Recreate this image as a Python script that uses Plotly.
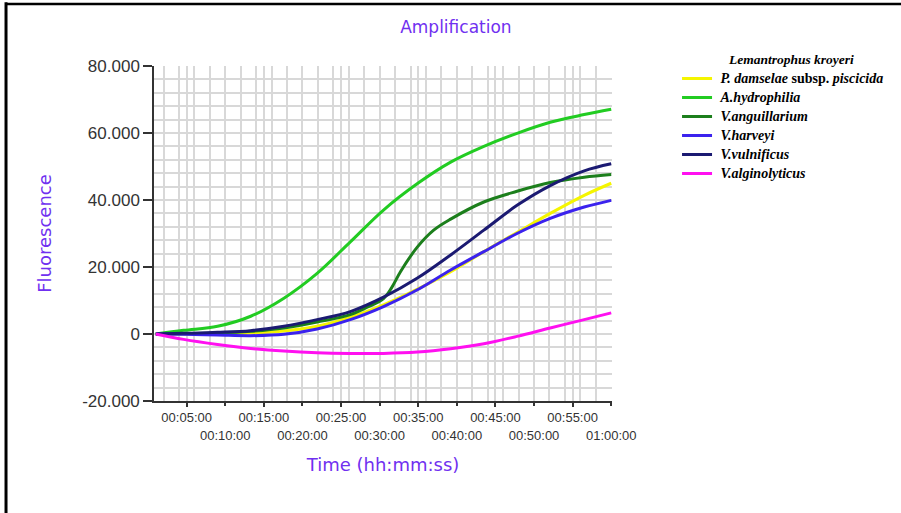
import plotly.graph_objects as go

# ---- data (time in minutes, fluorescence in raw units) ----
time_common = [1.0, 4.6, 9.0, 13.3, 17.6, 21.9, 26.2, 30.5, 34.9, 39.2, 43.5, 47.8, 52.1, 56.5, 60.0]
time_anguillarium = [1.0, 4.6, 9.0, 13.3, 17.6, 21.9, 26.2, 28.4, 30.5, 31.6, 32.7, 34.9, 37.0, 39.2,
                     43.5, 47.8, 52.1, 56.5, 60.0]

p_damselae = [0, 0, 100, 300, 900, 2300, 5000, 8700, 13400, 18600, 24600, 30300, 36000, 41400, 45000]
a_hydrophilia = [0, 1100, 2300, 5300, 10700, 18100, 27500, 37000, 44900, 51300, 56000, 59900, 63200, 65500, 67100]
v_anguillarium = [0, 100, 300, 800, 1800, 3600, 5800, 8000, 10600, 14000, 18600, 26000, 31000, 34300,
                  39400, 42600, 45200, 46800, 47600]
v_harveyi = [0, -100, -300, -500, -100, 1500, 4300, 8200, 13200, 19100, 24600, 30000, 34500, 37900, 39900]
v_vulnificus = [0, 200, 500, 1000, 2300, 4300, 6700, 11000, 16700, 23600, 31000, 38400, 44300, 48700, 50800]
v_alginolyticus = [0, -1600, -3100, -4300, -5100, -5600, -5800, -5800, -5400, -4400, -2900, -700, 1800, 4300, 6300]

LEG = "<span style='font-size:14px'>&nbsp;{}</span>"
series_names = [
    LEG.format("<b><i>P. damselae</i> subsp. <i>piscicida</i></b>"),
    LEG.format("<b><i>A.hydrophilia</i></b>"),
    LEG.format("<b><i>V.anguillarium</i></b>"),
    LEG.format("<b><i>V.harveyi</i></b>"),
    LEG.format("<b><i>V.vulnificus</i></b>"),
    LEG.format("<b><i>V.alginolyticus</i></b>"),
]
legend_title = "&nbsp;&nbsp;&nbsp;&nbsp;&nbsp;<b><i>Lemantrophus kroyeri</i></b>"
series_colors = ["#F5F500", "#22CC22", "#1C7F1C", "#3B22EE", "#1B1A72", "#FF10F0"]

odd_ticks = [5, 15, 25, 35, 45, 55]
odd_labels = ["00:05:00", "00:15:00", "00:25:00", "00:35:00", "00:45:00", "00:55:00"]
even_ticks = [10, 20, 30, 40, 50, 60]
even_labels = ["00:10:00", "00:20:00", "00:30:00", "00:40:00", "00:50:00", "01:00:00"]
y_ticks = [-20000, 0, 20000, 40000, 60000, 80000]
y_labels = ["-20.000", "0", "20.000", "40.000", "60.000", "80.000"]

x_range = [0.77, 60.1]
y_range = [-20000, 80000]

series = [
    (time_common, p_damselae),
    (time_common, a_hydrophilia),
    (time_anguillarium, v_anguillarium),
    (time_common, v_harveyi),
    (time_common, v_vulnificus),
    (time_common, v_alginolyticus),
]

TITLE_COLOR = "#7030F0"
TICK_COLOR = "#333333"
GRID = "#D8D8D8"

fig = go.Figure()
for i, ((t, v), name, col) in enumerate(zip(series, series_names, series_colors)):
    fig.add_trace(go.Scatter(
        x=t, y=v, name=name, mode="lines",
        line=dict(color=col, width=3, shape="spline", smoothing=1.0),
        xaxis="x2" if i == len(series) - 1 else "x",
        yaxis="y",
    ))

fig.update_layout(
    width=901, height=513,
    margin=dict(l=154, r=289, t=66, b=112),
    paper_bgcolor="white", plot_bgcolor="white",
    title=dict(text="Amplification", x=0.506, xref="container", xanchor="center",
               y=0.947, yref="container", yanchor="middle",
               font=dict(family="DejaVu Sans", size=17, color=TITLE_COLOR)),
    xaxis=dict(
        range=x_range, tickmode="array", tickvals=odd_ticks, ticktext=odd_labels,
        ticks="outside", ticklen=4, tickcolor="#333", tickwidth=1.5,
        showline=True, linecolor="#333", linewidth=1.5,
        showgrid=True, gridcolor=GRID, gridwidth=1.5,
        minor=dict(tickmode="linear", tick0=0, dtick=2, showgrid=True,
                   gridcolor=GRID, gridwidth=1.5),
        zeroline=False,
        ticklabelstandoff=0,
        tickfont=dict(family="Liberation Sans", size=13, color=TICK_COLOR),
        title=dict(text="Time (hh:mm:ss)", standoff=34,
                   font=dict(family="DejaVu Sans", size=18, color=TITLE_COLOR)),
    ),
    xaxis2=dict(
        overlaying="x", matches="x", anchor="y", side="bottom",
        tickmode="array", tickvals=even_ticks, ticktext=even_labels,
        ticks="outside", ticklen=4, tickcolor="#333", tickwidth=1.5,
        showline=False, showgrid=False, zeroline=False,
        ticklabelstandoff=18,
        tickfont=dict(family="Liberation Sans", size=13, color=TICK_COLOR),
    ),
    yaxis=dict(
        range=y_range, tickmode="array", tickvals=y_ticks, ticktext=y_labels,
        ticks="outside", ticklen=9, tickcolor="#333", tickwidth=1.5,
        showline=True, linecolor="#333", linewidth=1.5,
        showgrid=True, gridcolor=GRID, gridwidth=1.5,
        minor=dict(tickmode="linear", tick0=0, dtick=4000, showgrid=True,
                   gridcolor=GRID, gridwidth=1.5),
        zeroline=False,
        tickfont=dict(family="Liberation Sans", size=17, color=TICK_COLOR),
        title=dict(text="Fluorescence", standoff=26,
                   font=dict(family="DejaVu Sans", size=18, color=TITLE_COLOR)),
    ),
    legend=dict(
        x=1.142, y=1.058, xanchor="left", yanchor="top",
        bgcolor="rgba(0,0,0,0)", tracegroupgap=0, itemwidth=30,
        font=dict(family="Liberation Serif", size=10.7, color="black"),
        title=dict(text=legend_title, side="top center",
                   font=dict(family="Liberation Serif", size=13.5, color="black")),
    ),
    shapes=[
        dict(type="line", xref="paper", yref="paper", x0=-0.3231, x1=-0.3231, y0=-0.5, y1=1.19,
             line=dict(color="black", width=3)),
        dict(type="line", xref="paper", yref="paper", x0=-0.3231, x1=1.64, y0=1.185, y1=1.185,
             line=dict(color="black", width=2.5)),
    ],
)

fig.write_html("out.html", config={"displayModeBar": False},
               post_script="document.body.style.margin='0';")
